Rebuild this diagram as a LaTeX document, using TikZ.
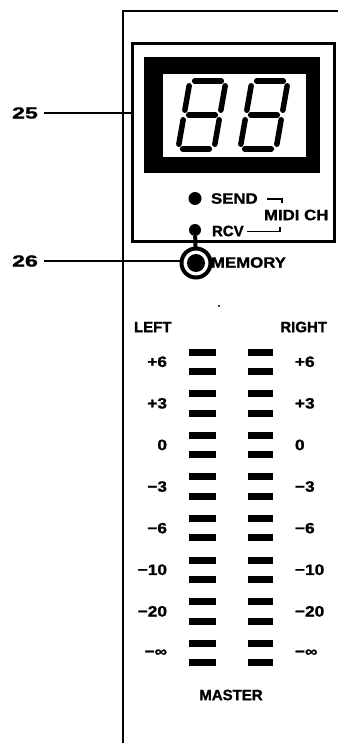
\documentclass[tikz,border=0pt]{standalone}
\usepackage{fontspec}
\setmainfont{Liberation Sans}[BoldFeatures={FakeBold=1.2}]
\newcommand{\sevenseg}[1]{%
  \foreach \ua/\va/\ub/\vb in {0.13/1/0.87/1, 0.13/0.5/0.87/0.5, 0.13/0/0.87/0, 0/0.57/0/0.93, 1/0.57/1/0.93, 0/0.07/0/0.43, 1/0.07/1/0.43}
    \draw[seg] ({#1+\ua*36+\va*12},{149-\va*68}) -- ({#1+\ub*36+\vb*12},{149-\vb*68});%
}
\begin{document}
\begin{tikzpicture}[x=1pt,y=-1pt,
  lbl/.style={font=\fontsize{15}{15}\selectfont\bfseries, inner sep=0pt, outer sep=0pt},
  callnum/.style={font=\fontsize{16}{16}\selectfont\bfseries, inner sep=0pt, outer sep=0pt},
  callout/.style={line width=2.4pt},
  brk/.style={line width=1.4pt},
  seg/.style={line width=5.5pt, line cap=round},
  panel/.style={line width=2pt},
  ledbar/.style={fill=black},
  leddot/.style={circle, fill=black, inner sep=0pt}]
\useasboundingbox (0,0) rectangle (338,743);
% panel edges
\draw[panel] (123,743) -- (123,11) -- (338,11);
% display box
\node[draw, line width=3pt, minimum width=202pt, minimum height=197pt, inner sep=0pt] (box) at (233,142.5) {};
\fill (144,57) rectangle (320,173);
\fill[white] (163,74) rectangle (306,157);
\sevenseg{178}
\sevenseg{240}
% callout 25
\node[callnum] (n25) at (25,113) {\scalebox{1.45}[1]{25}};
\draw[callout] ([xshift=6pt]n25.east) -- (box.west |- n25.east);
% send / rcv
\node[leddot, minimum size=13pt] (sdot) at (195,198.5) {};
\node[lbl, anchor=west] (send) at (211,198.5) {\scalebox{1.12}[1]{SEND}};
\draw[brk] (267,199) -- (282,199) -- (282,203.5);
\node[lbl, anchor=west] (midi) at (264,215) {\scalebox{1.12}[1]{MIDI CH}};
\node[leddot, minimum size=12pt] (rdot) at (195,230) {};
\node[lbl, anchor=west] (rcv) at (212,231) {RCV};
\draw[brk] (247,231.5) -- (280,231.5) -- (280,227);
% memory button
\draw[line width=4pt] (rdot) -- (196,263);
\node[circle, draw, line width=4pt, fill=white, minimum size=29pt, inner sep=0pt] (mem) at (196,263) {};
\node[leddot, minimum size=18pt] (memdot) at (mem.center) {};
\node[lbl, anchor=west] (memory) at (211,262.5) {\scalebox{1.12}[1]{MEMORY}};
\node[callnum] (n26) at (25,261) {\scalebox{1.45}[1]{26}};
\draw[callout] ([xshift=6pt]n26.east) -- (mem.west |- n26.east);
% speck
\fill (219,306) circle (1.2);
% meter
\node[lbl, anchor=west] (left) at (134,327) {LEFT};
\node[lbl, anchor=east] (right) at (327,327) {RIGHT};
\foreach \k/\lab in {0/+6,1/+3,2/0,3/−3,4/−6,5/−10,6/−20,7/−∞} {
  \pgfmathsetmacro\yt{352+41.6*\k}
  \fill[ledbar] (189,\yt-3.5) rectangle (216,\yt+3.5);
  \fill[ledbar] (189,\yt+16) rectangle (216,\yt+23);
  \fill[ledbar] (248,\yt-3.5) rectangle (273,\yt+3.5);
  \fill[ledbar] (248,\yt+16) rectangle (273,\yt+23);
  \node[lbl, anchor=east] (L\k) at (167,\yt+9.75) {\scalebox{1.15}[1]{\lab}};
  \node[lbl, anchor=west] (R\k) at (295,\yt+9.75) {\scalebox{1.15}[1]{\lab}};
}
\node[lbl] (master) at (231,695) {MASTER};
\end{tikzpicture}
\end{document}
